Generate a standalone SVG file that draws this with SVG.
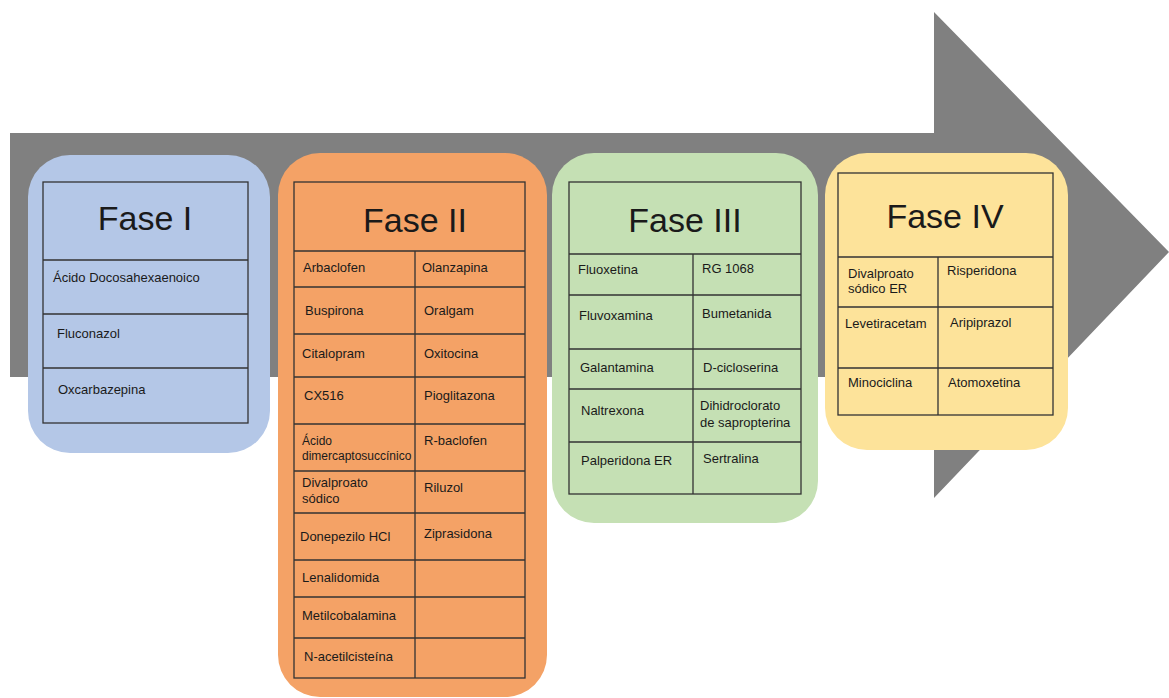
<svg xmlns="http://www.w3.org/2000/svg" width="1169" height="698" viewBox="0 0 1169 698">
<style>
text{font-family:"Liberation Sans",Arial,sans-serif;fill:#1a1a1a}
.t{font-size:34px;text-anchor:middle}
.i{font-size:13px}
.g{fill:none;stroke:#333;stroke-width:1.3}
</style>
<rect width="1169" height="698" fill="#fff"/>
<g id="arrow">
<path d="M10,133 H934 V12 L1169,252 L934,498 V377 H10 Z" fill="#808080"/>
</g>
<g id="fase1">
<rect x="28" y="155" width="242" height="298" rx="42" fill="#b4c7e7"/>
<rect class="g" x="43" y="182" width="205" height="241"/>
<path class="g" d="M43,260 H248 M43,314 H248 M43,368 H248"/>
<text class="t" x="145" y="230">Fase I</text>
<text class="i" x="53" y="282">Ácido Docosahexaenoico</text>
<text class="i" x="57" y="338">Fluconazol</text>
<text class="i" x="58" y="394">Oxcarbazepina</text>
</g>
<g id="fase2">
<rect x="278" y="153" width="269" height="544" rx="42" fill="#f4a266"/>
<rect class="g" x="294" y="182" width="231" height="496"/>
<path class="g" d="M294,251 H525 M294,287 H525 M294,334 H525 M294,377 H525 M294,424 H525 M294,471 H525 M294,513 H525 M294,560 H525 M294,597 H525 M294,638 H525 M415,251 V678"/>
<text class="t" x="415" y="232">Fase II</text>
<text class="i" x="303" y="272">Arbaclofen</text>
<text class="i" x="422" y="272">Olanzapina</text>
<text class="i" x="305" y="315">Buspirona</text>
<text class="i" x="424" y="315">Oralgam</text>
<text class="i" x="302" y="358">Citalopram</text>
<text class="i" x="424" y="358">Oxitocina</text>
<text class="i" x="304" y="400">CX516</text>
<text class="i" x="424" y="400">Pioglitazona</text>
<text class="i" x="302" y="445" style="font-size:12px">Ácido</text>
<text class="i" x="302" y="460" style="font-size:12px">dimercaptosuccínico</text>
<text class="i" x="424" y="445">R-baclofen</text>
<text class="i" x="302" y="487">Divalproato</text>
<text class="i" x="302" y="503">sódico</text>
<text class="i" x="424" y="492">Riluzol</text>
<text class="i" x="300" y="541">Donepezilo HCl</text>
<text class="i" x="424" y="538">Ziprasidona</text>
<text class="i" x="302" y="582">Lenalidomida</text>
<text class="i" x="302" y="620">Metilcobalamina</text>
<text class="i" x="304" y="661">N-acetilcisteína</text>
</g>
<g id="fase3">
<rect x="552" y="153" width="266" height="370" rx="42" fill="#c5e0b4"/>
<rect class="g" x="569" y="182" width="232" height="312"/>
<path class="g" d="M569,254 H801 M569,295 H801 M569,349 H801 M569,389 H801 M569,442 H801 M693,254 V494"/>
<text class="t" x="685" y="232">Fase III</text>
<text class="i" x="578" y="274">Fluoxetina</text>
<text class="i" x="702" y="273">RG 1068</text>
<text class="i" x="579" y="320">Fluvoxamina</text>
<text class="i" x="702" y="318">Bumetanida</text>
<text class="i" x="580" y="372">Galantamina</text>
<text class="i" x="703" y="372">D-cicloserina</text>
<text class="i" x="581" y="415">Naltrexona</text>
<text class="i" x="700" y="410">Dihidroclorato</text>
<text class="i" x="700" y="427">de sapropterina</text>
<text class="i" x="581" y="465">Palperidona ER</text>
<text class="i" x="703" y="463">Sertralina</text>
</g>
<g id="fase4">
<rect x="825" y="153" width="243" height="297" rx="42" fill="#fde39a"/>
<rect class="g" x="838" y="173" width="215" height="242"/>
<path class="g" d="M838,257 H1053 M838,307 H1053 M838,368 H1053 M938,257 V415"/>
<text class="t" x="945" y="228">Fase IV</text>
<text class="i" x="848" y="278">Divalproato</text>
<text class="i" x="848" y="293">sódico ER</text>
<text class="i" x="947" y="275">Risperidona</text>
<text class="i" x="845" y="328">Levetiracetam</text>
<text class="i" x="950" y="327">Aripiprazol</text>
<text class="i" x="848" y="387">Minociclina</text>
<text class="i" x="948" y="387">Atomoxetina</text>
</g>
</svg>
